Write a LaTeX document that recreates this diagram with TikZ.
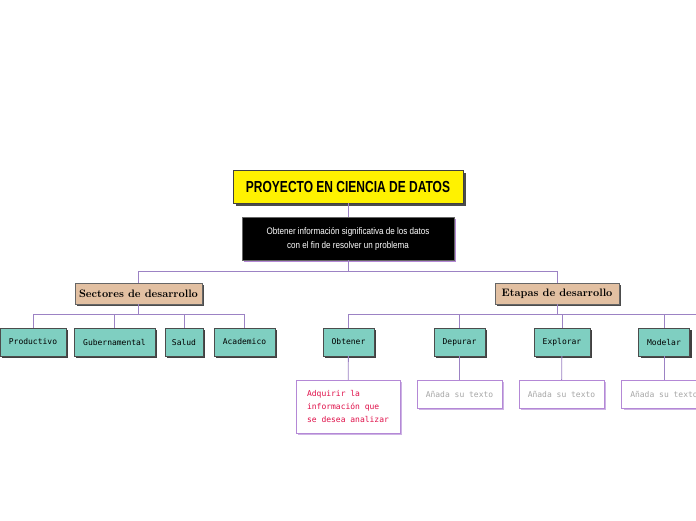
\documentclass[tikz,border=0pt]{standalone}
\usepackage{fontspec}
\usepackage{tikz}
\usetikzlibrary{positioning, shadows}
\newfontfamily\TitleFont[FakeStretch=0.75]{Liberation Sans}
\newfontfamily\NoteFont[FakeStretch=0.85]{Liberation Sans}
\newfontfamily\DotFont{DejaVu Sans Mono}
\definecolor{titleyellow}{HTML}{FFF200}
\definecolor{tealbox}{HTML}{7FCFC1}
\definecolor{tanbox}{HTML}{E2C0A2}
\definecolor{linkviolet}{HTML}{9C82C4}
\definecolor{subviolet}{HTML}{B488D6}
\definecolor{subshadow}{HTML}{CDB3E4}
\definecolor{redtext}{HTML}{E0104A}

\begin{document}
\begin{tikzpicture}[x=1pt, y=-1pt,
				link/.style = {draw=linkviolet, line width=0.8pt},
				topic/.style = {rectangle, draw=black!75, fill=titleyellow, minimum width=230pt, minimum height=33pt,
					font=\TitleFont\bfseries\fontsize{16}{18}\selectfont,
					drop shadow={shadow xshift=2.5pt, shadow yshift=-2.5pt, fill=black!70, opacity=1}},
				note/.style = {rectangle, draw=black!60, fill=black, text=white, minimum width=212pt, minimum height=43pt,
					align=center, font=\NoteFont\fontsize{9.5}{14}\selectfont,
					drop shadow={shadow xshift=2pt, shadow yshift=-2pt, fill=subviolet, opacity=1}},
				branch/.style = {rectangle, draw=black!60, fill=tanbox, minimum height=21pt, inner xsep=3pt,
					font=\bfseries\fontsize{10.8}{12}\selectfont,
					drop shadow={shadow xshift=2pt, shadow yshift=-2pt, fill=black!70, opacity=1}},
				leaf/.style = {rectangle, draw=black!70, fill=tealbox, minimum height=28pt, inner xsep=2pt,
					font=\DotFont\fontsize{8}{10}\selectfont,
					drop shadow={shadow xshift=2pt, shadow yshift=-2pt, fill=black!75, opacity=1}},
				detail/.style = {rectangle, draw=subviolet, fill=white, minimum height=28pt, minimum width=85pt,
					text=black!35, font=\DotFont\fontsize{8}{10}\selectfont,
					drop shadow={shadow xshift=2pt, shadow yshift=-2pt, fill=subshadow, opacity=1}},
			]
			\useasboundingbox[fill=white] (0,0) rectangle (696,520);

			% root and description
			\node[topic](root) at (348,186.5){PROYECTO EN CIENCIA DE DATOS};
			\node[note](desc) at (348,238.5){Obtener información significativa de los datos\\con el fin de resolver un problema};

			% two branches
			\node[branch, minimum width=127pt](sect) at (138.5,293.5){Sectores de desarrollo};
			\node[branch, minimum width=124pt](etap) at (557,293.5){Etapas de desarrollo};

			% sectors
			\node[leaf, minimum width=66pt](prod) at (33,342){Productivo};
			\node[leaf, minimum width=81pt](gube) at (114.5,342){Gubernamental};
			\node[leaf, minimum width=38pt](salu) at (184,342){Salud};
			\node[leaf, minimum width=61pt](acad) at (244.5,342){Academico};

			% stages
			\node[leaf, minimum width=51pt](obte) at (348.5,342){Obtener};
			\node[leaf, minimum width=51pt](depu) at (459.5,342){Depurar};
			\node[leaf, minimum width=56pt](expl) at (562,342){Explorar};
			\node[leaf, minimum width=51pt](mode) at (664,342){Modelar};
			\coordinate(edge) at (700,315);

			% details
			\node[detail, minimum width=104pt, minimum height=53pt, text=redtext, align=left,
				font=\DotFont\fontsize{8}{13}\selectfont](adqu) at (348,406.5){Adquirir la\\información que\\se desea analizar};
			\node[detail](depd) at (459.5,394){Añada su texto};
			\node[detail](expd) at (561.5,394){Añada su texto};
			\node[detail](modd) at (664,394){Añada su texto};

			\draw[link](root)--(desc);
			\draw[link](desc.south)--++(0,11)-|(sect.north);
			\draw[link](desc.south)--++(0,11)-|(etap.north);
			\foreach \kid in {prod, gube, salu, acad}
				\draw[link](sect.south)--++(0,10.5)-|(\kid.north);
			\foreach \kid in {obte, depu, expl, mode}
				\draw[link](etap.south)--++(0,10.5)-|(\kid.north);
			\draw[link](etap.south)--++(0,10.5)-|(edge);
			\draw[link](obte)--(adqu);
			\draw[link](depu)--(depd);
			\draw[link](expl)--(expd);
			\draw[link](mode)--(modd);

		\end{tikzpicture}
\end{document}
